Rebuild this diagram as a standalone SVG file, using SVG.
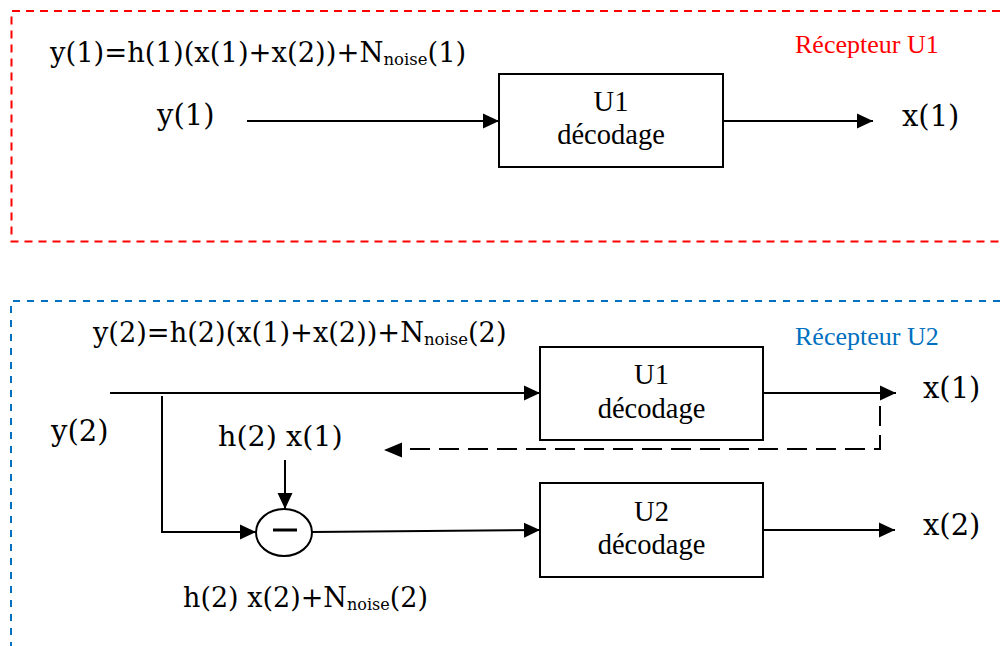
<svg xmlns="http://www.w3.org/2000/svg" width="1000" height="646" viewBox="0 0 1000 646">
  <defs>
    <style>
      .math { font-family: "DejaVu Serif", "Liberation Serif", serif; fill: #000; }
      .tnr { font-family: "Liberation Serif", "Times New Roman", serif; fill: #000; }
      .box { fill: #fff; stroke: #000; stroke-width: 2; }
      .wire { fill: none; stroke: #000; stroke-width: 2; }
      .dash { fill: none; stroke: #000; stroke-width: 2; stroke-dasharray: 20 9; }
    </style>
    <marker id="arrow" viewBox="0 0 16 16" refX="16" refY="8" markerWidth="16" markerHeight="16" markerUnits="userSpaceOnUse" orient="auto">
      <path d="M0,0.5 L16,8 L0,15.5 z" fill="#000"/>
    </marker>
  </defs>
  <rect width="1000" height="646" fill="#fff"/>

  <g id="recepteur-u1">
    <path d="M1000,11 H11.5 V241.5 H1000" fill="none" stroke="#FF0000" stroke-width="2" stroke-dasharray="8 6"/>
    <text class="tnr" x="795" y="53" font-size="26" style="fill:#FF0000">Récepteur U1</text>
    <text class="math" x="50" y="62" font-size="27.4">y(1)=h(1)(x(1)+x(2))+N<tspan font-size="16.5" dy="3">noise</tspan><tspan dy="-3">(1)</tspan></text>
  </g>

  <g id="recepteur-u2">
    <path d="M1000,301 H11 V646" fill="none" stroke="#0070C0" stroke-width="2" stroke-dasharray="7 7"/>
    <text class="tnr" x="795" y="345" font-size="26" style="fill:#0070C0">Récepteur U2</text>
    <text class="math" x="93" y="342" font-size="27.2">y(2)=h(2)(x(1)+x(2))+N<tspan font-size="16.5" dy="3">noise</tspan><tspan dy="-3">(2)</tspan></text>
  </g>

  <g id="label-y1"><text class="math" x="157" y="125" font-size="29">y(1)</text></g>
  <g id="label-x1-top"><text class="math" x="902" y="126" font-size="29">x(1)</text></g>
  <g id="label-y2"><text class="math" x="51" y="441" font-size="29">y(2)</text></g>
  <g id="label-x1-bottom"><text class="math" x="923" y="398" font-size="29">x(1)</text></g>
  <g id="label-x2"><text class="math" x="923" y="535" font-size="29">x(2)</text></g>
  <g id="label-h2x1"><text class="math" x="218" y="446" font-size="28.6">h(2) x(1)</text></g>
  <g id="label-h2x2"><text class="math" x="183" y="607" font-size="27">h(2) x(2)+N<tspan font-size="16" dy="3">noise</tspan><tspan dy="-3">(2)</tspan></text></g>

  <g id="u1-decodage-a">
    <rect class="box" x="499" y="74" width="224" height="93"/>
    <text class="tnr" x="611" y="111" font-size="28.5" text-anchor="middle">U1</text>
    <text class="tnr" x="611" y="144" font-size="28.5" text-anchor="middle">décodage</text>
  </g>

  <g id="u1-decodage-b">
    <rect class="box" x="540" y="347" width="223" height="93"/>
    <text class="tnr" x="651.5" y="384" font-size="28.5" text-anchor="middle">U1</text>
    <text class="tnr" x="651.5" y="418" font-size="28.5" text-anchor="middle">décodage</text>
  </g>

  <g id="u2-decodage">
    <rect class="box" x="540" y="483" width="223" height="94"/>
    <text class="tnr" x="651.5" y="521" font-size="28.5" text-anchor="middle">U2</text>
    <text class="tnr" x="651.5" y="554" font-size="28.5" text-anchor="middle">décodage</text>
  </g>

  <g id="soustracteur">
    <ellipse cx="284" cy="532.5" rx="28" ry="23.5" fill="#fff" stroke="#000" stroke-width="2"/>
    <line x1="273" y1="530" x2="297" y2="530" stroke="#000" stroke-width="3"/>
  </g>

  <g id="connectors">
    <line class="wire" x1="247" y1="121" x2="499" y2="121" marker-end="url(#arrow)"/>
    <line class="wire" x1="723" y1="121" x2="873" y2="121" marker-end="url(#arrow)"/>
    <line class="wire" x1="110" y1="393" x2="540" y2="393" marker-end="url(#arrow)"/>
    <line class="wire" x1="763" y1="393" x2="896" y2="393" marker-end="url(#arrow)"/>
    <path class="dash" d="M880,406 V449 H402"/>
    <path d="M384,450 L402,442.5 L402,457.5 z" fill="#000"/>
    <path class="wire" d="M162,396 V532 H256" marker-end="url(#arrow)"/>
    <line class="wire" x1="285" y1="460" x2="285" y2="509" marker-end="url(#arrow)"/>
    <line class="wire" x1="312" y1="532" x2="540" y2="530" marker-end="url(#arrow)"/>
    <line class="wire" x1="763" y1="530" x2="895" y2="530" marker-end="url(#arrow)"/>
  </g>
</svg>
